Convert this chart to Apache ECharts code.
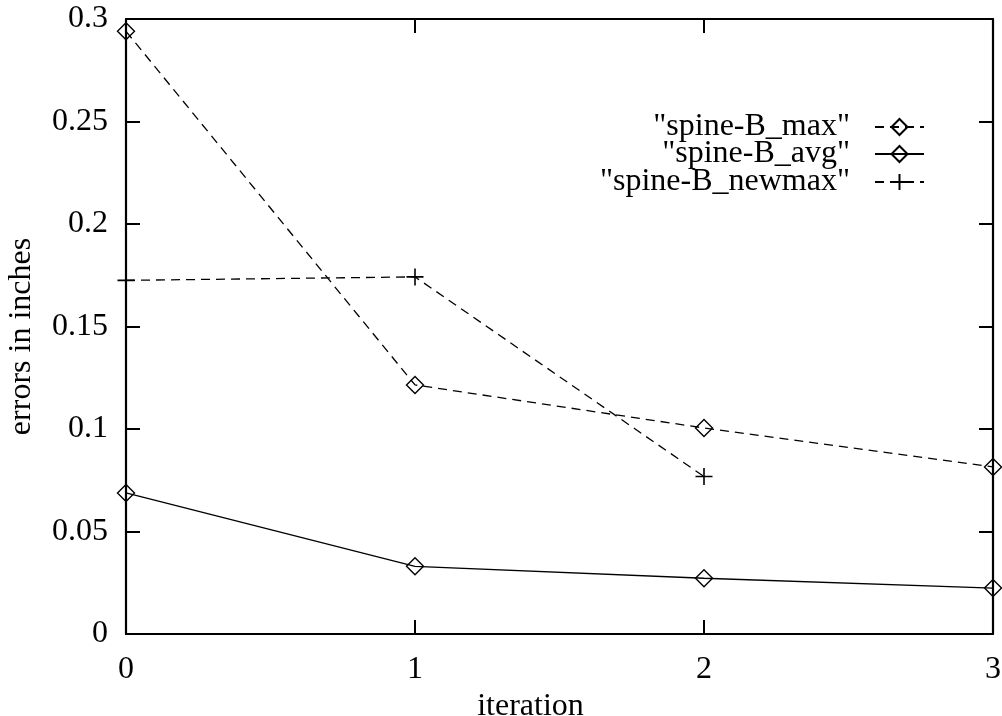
<!DOCTYPE html>
<html>
<head>
<meta charset="utf-8">
<script src="https://cdn.jsdelivr.net/npm/echarts@6/dist/echarts.min.js"></script>
<style>
  html, body { margin: 0; padding: 0; background: #fff; }
  #chart { width: 1002px; height: 716px; }
</style>
</head>
<body>
<div id="chart"></div>
<script>
// Error per iteration for the spine-B runs
const iterations = [0, 1, 2, 3];
const spineMax = [0.294, 0.1215, 0.1005, 0.0815];
const spineAvg = [0.0688, 0.0330, 0.0272, 0.0224];
const newmaxIterations = [0, 1, 2];
const spineNewmax = [0.1725, 0.1742, 0.0768];

const seriesNames = ['"spine-B_max"', '"spine-B_avg"', '"spine-B_newmax"'];
const xTicks = [0, 1, 2, 3];
const yTicks = [0, 0.05, 0.1, 0.15, 0.2, 0.25, 0.3];

const FONT = 'Liberation Serif';
const FS = 32;

const pairs = (xs, ys) => xs.map((x, i) => [x, ys[i]]);

// "+" marker drawn as a stroked path
const plusPath = 'path://M0,5L10,5M5,0L5,10';

const markerStyle = { color: 'none', borderColor: '#000', borderWidth: 1.4 };

const chart = echarts.init(document.getElementById('chart'), null, { renderer: 'canvas' });

// Frame axes: thick border with inward ticks on all four sides
const axisCommon = {
  type: 'value',
  axisLine: { show: true, onZero: false, lineStyle: { color: '#000', width: 2.2 } },
  axisTick: { show: true, inside: true, length: 14, lineStyle: { color: '#000', width: 2 } },
  splitLine: { show: false },
};

const legendCommon = (name, top) => ({
  data: [name],
  orient: 'vertical',
  align: 'right',
  right: 72,
  top: top,
  itemWidth: 49,
  itemHeight: 20,
  textStyle: { fontFamily: FONT, fontSize: FS, color: '#000', padding: [0, 20, 0, 0] },
  selectedMode: false,
});

chart.setOption({
  animation: false,
  backgroundColor: '#fff',
  grid: { left: 126, right: 9, top: 19, bottom: 82, containLabel: false, outerBoundsMode: 'none' },
  legend: [
    legendCommon(seriesNames[0], 106),
    legendCommon(seriesNames[1], 133),
    legendCommon(seriesNames[2], 161),
  ],
  xAxis: [
    Object.assign({}, axisCommon, {
      min: xTicks[0], max: xTicks[xTicks.length - 1], interval: 1,
      position: 'bottom',
      axisLabel: { fontFamily: FONT, fontSize: FS, color: '#000', margin: 20 },
      name: 'iteration',
      nameLocation: 'middle',
      nameGap: 48,
      nameTextStyle: { fontFamily: FONT, fontSize: FS, color: '#000', padding: [0, 58, 0, 0] },
    }),
    Object.assign({}, axisCommon, {
      min: xTicks[0], max: xTicks[xTicks.length - 1], interval: 1,
      position: 'top',
      axisLabel: { show: false },
    }),
  ],
  yAxis: [
    Object.assign({}, axisCommon, {
      min: yTicks[0], max: yTicks[yTicks.length - 1], interval: 0.05,
      position: 'left',
      axisLabel: { fontFamily: FONT, fontSize: FS, color: '#000', margin: 18 },
      name: 'errors in inches',
      nameLocation: 'middle',
      nameGap: 88,
      nameTextStyle: { fontFamily: FONT, fontSize: FS, color: '#000', padding: [0, 20, 0, 0] },
    }),
    Object.assign({}, axisCommon, {
      min: yTicks[0], max: yTicks[yTicks.length - 1], interval: 0.05,
      position: 'right',
      axisLabel: { show: false },
    }),
  ],
  series: [
    {
      name: seriesNames[0],
      type: 'line',
      data: pairs(iterations, spineMax),
      symbol: 'diamond',
      symbolSize: 17,
      clip: false,
      lineStyle: { color: '#000', width: 1.3, type: [9, 6] },
      itemStyle: markerStyle,
    },
    {
      name: seriesNames[1],
      type: 'line',
      data: pairs(iterations, spineAvg),
      symbol: 'diamond',
      symbolSize: 17,
      clip: false,
      lineStyle: { color: '#000', width: 1.3, type: 'solid' },
      itemStyle: markerStyle,
    },
    {
      name: seriesNames[2],
      type: 'line',
      data: pairs(newmaxIterations, spineNewmax),
      symbol: plusPath,
      symbolSize: 17,
      clip: false,
      lineStyle: { color: '#000', width: 1.3, type: [9, 6] },
      itemStyle: { color: 'none', borderColor: '#000', borderWidth: 1.6 },
    },
  ],
});
</script>
</body>
</html>
